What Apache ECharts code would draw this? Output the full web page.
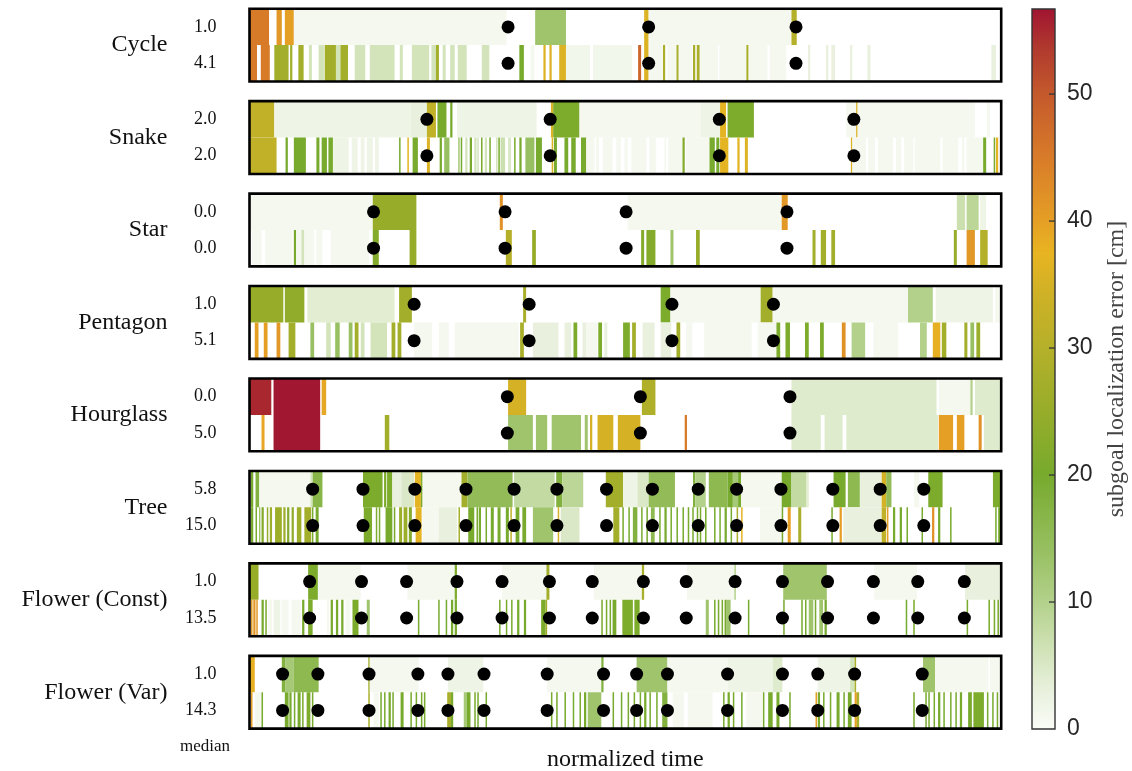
<!DOCTYPE html>
<html>
<head>
<meta charset="utf-8">
<script src="https://cdn.jsdelivr.net/npm/echarts@6/dist/echarts.min.js"></script>
<style>
html, body { margin: 0; padding: 0; background: #ffffff; }
#chart { width: 1132px; height: 771px; }
</style>
</head>
<body>
<div id="chart"></div>
<script>
// Trajectory shapes (one panel each) and the median error of each row.
const shapes = ['Cycle', 'Snake', 'Star', 'Pentagon', 'Hourglass', 'Tree', 'Flower (Const)', 'Flower (Var)'];
const medians = [['1.0', '4.1'], ['2.0', '2.0'], ['0.0', '0.0'], ['1.0', '5.1'], ['0.0', '5.0'], ['5.8', '15.0'], ['1.0', '13.5'], ['1.0', '14.3']];

// Error segments per row: [start %, end %, error cm] along normalized time.
const cycleUpper = [[0,2.6,45],[3.6,4.3,41],[4.7,5.9,40],[5.9,34.2,1],[38.0,42.1,13],[52.5,53.1,36],[53.1,72.1,1],[72.1,72.8,30]];
const cycleLower = [[0,1.0,45],[1.5,2.7,45],[3.3,5.2,27],[5.4,5.7,27],[6.5,7.2,27],[7.9,8.3,6],[9.2,9.9,6],[10.0,11.5,27],[11.5,12.1,6],[12.1,13.1,27],[14.0,15.4,6],[16.0,19.3,6],[20.0,20.4,6],[21.6,23.9,6],[24.2,24.8,6],[24.8,25.2,27],[25.7,26.1,6],[26.7,27.3,6],[27.7,28.9,6],[30.9,31.9,6],[35.9,36.5,20],[37.4,37.9,1],[39.1,39.4,36],[39.9,40.2,36],[41.2,42.1,36],[42.1,45.3,1.5],[45.7,50.9,1.5],[51.7,52.1,48],[52.5,53.1,36],[53.1,54.9,1],[55.0,55.3,28],[55.6,56.7,1],[56.8,57.1,28],[57.1,58.9,1],[59.0,59.3,28],[59.5,59.9,28],[59.9,62.3,1],[62.5,66.1,1],[66.1,66.4,28],[66.4,68.9,1],[69.2,71.4,1],[74.3,74.6,3],[76.7,77.0,3],[77.4,77.9,3],[79.9,80.2,3],[82.2,82.6,3],[98.7,99.3,3]];

const snakeUpper = [[0,3.3,32],[3.3,21.4,2],[21.4,23.6,3],[23.6,24.8,32],[25.0,26.2,20],[26.7,27.0,20],[27.6,38.2,2],[40.1,40.4,36],[40.4,43.9,21],[43.9,60.0,1],[60.0,62.6,2],[62.6,63.4,37],[63.6,67.1,21],[79.4,80.7,1],[80.7,80.9,36],[80.9,96.5,1],[98.1,98.5,1]];
const snakeLower = [[0,3.6,32],[4.8,5.1,20],[5.9,7.5,20],[8.9,9.3,20],[9.6,10.3,20],[10.5,11.1,20],[11.1,13.2,2],[13.6,14.4,2],[14.8,15.3,2],[15.6,16.4,2],[16.7,17.2,2],[19.9,20.1,20],[21.0,21.2,37],[21.7,22.4,20],[23.6,24.0,36],[25.3,25.6,20],[25.9,26.6,14],[27.8,27.9,20],[28.1,28.3,20],[28.7,29.0,6],[29.3,29.6,20],[29.9,30.2,6],[30.3,30.5,6],[30.8,31.0,20],[31.3,31.6,6],[31.9,32.1,20],[32.8,33.0,6],[33.1,33.3,20],[33.4,34.0,7],[34.4,34.8,5],[35.2,35.4,20],[35.9,36.2,20],[36.7,37.9,14],[38.1,38.9,20],[40.2,40.4,36],[40.5,40.9,20],[41.9,42.4,20],[42.8,43.4,20],[44.1,44.8,20],[44.8,45.9,1],[46.1,46.5,1],[47.0,48.3,1],[48.8,49.4,1],[49.9,50.3,1],[50.8,52.8,1],[53.2,54.1,1],[55.2,55.4,1],[55.7,57.5,1],[57.6,57.9,22],[58.1,61.2,1],[61.2,61.9,20],[62.1,62.5,20],[62.6,63.7,37],[64.9,65.2,37],[65.9,66.3,36],[80.0,80.2,36],[80.2,82.0,1],[82.3,83.2,1],[83.6,85.6,1],[86.0,86.7,1],[87.1,88.3,1],[88.5,91.9,1],[92.2,94.3,1],[94.8,95.1,1],[95.4,97.6,1],[97.6,98.0,20],[99.0,99.2,20],[99.3,99.6,37]];

const starUpper = [[0,16.4,1],[16.4,22.2,25],[33.3,33.7,42],[50.3,70.8,1],[70.8,71.6,41],[94.1,95.2,7],[95.4,97.0,9],[97.2,98.0,2]];
const starLower = [[0.3,1.6,1],[2.1,5.7,1],[5.9,6.2,20],[6.2,6.9,1],[6.9,7.3,6],[7.3,8.6,1],[8.9,9.7,1],[10.8,15.9,1],[16.4,17.2,22],[21.3,22.2,25],[34.1,34.9,30],[37.6,38.1,25],[52.1,52.5,22],[52.8,54.0,22],[56.0,56.4,13],[59.4,59.9,25],[74.9,75.3,27],[76.0,76.7,27],[77.4,77.9,27],[93.7,94.1,25],[95.4,96.5,41],[97.2,98.2,30]];

const pentagonUpper = [[0,4.5,25],[4.7,7.3,24],[7.7,19.3,4],[19.9,21.6,27],[36.4,36.8,28],[54.7,56.0,21],[56.0,68.0,1],[68.0,69.6,27],[69.6,87.6,1],[87.6,90.9,10],[91.3,98.9,2],[99.2,100,1]];
const pentagonLower = [[0.7,1.2,40],[1.9,2.4,40],[3.6,4.1,41],[5.2,6.1,27],[8.1,8.6,14],[10.2,10.8,6],[11.4,12.0,14],[13.2,13.7,14],[14.0,14.5,27],[14.8,15.3,6],[16.1,18.3,6],[18.9,19.4,27],[19.7,20.2,27],[21.9,24.3,1],[25.2,26.5,1],[27.3,35.8,1],[36.0,36.5,28],[37.7,41.1,3],[41.9,42.8,3],[43.1,43.6,21],[44.3,44.8,3],[44.8,46.3,1],[46.4,46.9,21],[47.2,47.6,3],[49.7,50.6,21],[50.9,51.4,27],[52.3,53.9,3],[54.7,56.1,3],[56.8,57.3,27],[58.1,58.9,1],[60.5,66.8,1],[67.6,70.1,1],[70.1,70.6,21],[71.3,71.9,21],[73.9,74.4,21],[75.9,76.4,21],[78.8,79.3,42],[80.1,81.9,10],[83.0,86.3,1],[89.2,90.1,10],[90.9,91.9,38],[92.1,92.7,27],[95.1,95.5,27],[95.9,96.4,14],[96.7,97.2,26]];

const hourglassUpper = [[0,2.9,55],[3.2,9.4,56.5],[9.6,10.2,39],[34.4,36.8,35],[52.2,54.0,29],[72.1,91.4,4.5],[91.7,95.9,1],[95.9,96.2,10],[96.5,100,4.5]];
const hourglassLower = [[1.6,2.0,39],[3.2,9.4,56.5],[18.0,18.6,27],[34.4,37.7,13],[38.1,39.6,13],[40.2,44.1,13],[44.6,45.0,13],[45.3,45.6,35],[46.3,48.4,35],[49.0,52.0,35],[57.9,58.2,45],[72.1,76.0,4.5],[76.5,78.9,4.5],[79.4,91.6,4.5],[91.7,93.6,40],[94.1,95.1,40],[97.0,97.4,42],[97.7,100,4.5]];

const treeUpper = [[0.2,0.5,20],[0.8,1.3,18],[1.3,8.1,1],[8.1,8.4,6],[8.4,9.7,17],[15.1,17.7,21],[17.9,18.2,21],[18.3,19.0,21],[19.0,20.2,3],[20.2,21.9,5],[22.0,22.8,37],[22.8,23.0,21],[23.1,28.1,1],[28.2,29.0,27],[29.0,35.0,15],[35.2,40.6,8],[40.8,41.6,18],[41.6,44.4,9],[47.4,49.7,27],[49.7,51.6,2],[51.6,53.1,5],[53.1,56.6,15],[59.0,59.3,18],[59.3,60.7,10],[61.1,63.6,16],[63.6,64.3,20],[64.3,65.0,12],[65.0,65.4,20],[65.4,70.8,1],[70.8,72.1,20],[72.1,74.1,8],[74.1,74.4,4],[77.7,79.3,20],[79.6,81.2,16],[81.2,84.1,3],[84.1,84.7,35],[84.7,85.4,15],[88.4,89.1,1],[90.3,92.2,21],[98.9,100,21]];
const treeLower = [[0.2,0.5,20],[0.8,1.0,20],[1.3,1.4,20],[1.6,1.9,22],[2.3,2.5,24],[2.7,3.0,26],[3.4,4.3,26],[4.5,4.8,26],[5.0,5.3,22],[5.6,5.9,24],[6.3,6.9,26],[7.3,8.2,27],[8.3,8.5,20],[8.8,9.2,20],[15.2,16.3,21],[16.8,17.0,21],[17.2,17.4,21],[18.1,19.0,20],[19.2,19.4,20],[19.9,20.3,26],[20.5,21.0,26],[21.2,21.6,22],[22.1,22.9,37],[23.0,25.2,1],[25.2,27.6,3],[27.8,28.0,27],[29.1,29.9,20],[30.2,30.4,20],[30.5,30.8,20],[31.4,31.6,20],[32.1,32.5,20],[33.0,33.4,20],[34.1,34.5,20],[34.7,34.9,32],[35.4,35.9,20],[36.3,36.8,20],[37.7,40.4,13],[41.0,41.2,35],[41.4,43.9,5],[48.4,49.2,27],[49.6,49.8,20],[50.4,50.6,20],[51.0,51.6,18],[52.1,52.3,20],[52.8,53.0,20],[53.4,53.9,16],[54.5,54.7,20],[55.2,55.5,20],[56.0,56.2,20],[56.8,57.0,20],[57.6,57.8,20],[58.3,58.5,20],[58.9,59.1,20],[59.5,59.7,20],[59.9,60.1,20],[60.6,60.8,20],[61.8,62.0,20],[62.5,62.7,20],[63.2,63.5,20],[64.0,64.2,20],[64.8,65.0,28],[65.4,65.6,37],[67.9,70.8,1],[70.8,71.0,20],[71.6,72.0,40],[73.0,73.4,28],[77.4,77.6,20],[78.5,78.8,40],[79.0,84.1,3],[84.1,84.7,32],[84.8,85.0,40],[85.6,85.9,20],[86.5,86.8,20],[87.4,87.6,20],[89.4,89.6,20],[90.8,91.1,42],[91.6,91.9,20],[93.2,93.4,20],[99.2,99.4,20],[99.6,99.9,20]];

const flowerConstUpper = [[0,1.2,25],[7.8,9.1,21],[9.1,14.8,1],[21.0,27.3,1],[27.3,27.6,21],[33.6,39.5,1],[39.5,39.9,27],[45.8,52.2,1],[52.2,52.5,28],[58.2,64.5,1],[64.5,64.7,10],[71.0,76.8,13],[83.1,88.8,1],[95.2,100,3]];
const flowerConstLower = [[0.2,0.4,41],[0.5,0.8,41],[0.9,1.1,41],[1.6,1.9,20],[2.1,2.3,20],[2.5,3.0,1],[3.2,4.1,2],[4.3,5.2,1],[5.6,6.8,1],[7.0,7.3,20],[7.8,8.4,21],[10.3,10.6,1],[10.8,11.1,20],[11.5,11.8,20],[12.2,12.5,20],[12.8,13.4,1],[13.7,14.5,21],[15.6,16.0,13],[22.4,22.6,20],[25.1,25.3,20],[26.1,26.3,20],[26.8,27.1,20],[27.3,27.6,20],[33.2,33.4,20],[34.1,34.3,20],[34.8,35.0,20],[35.6,35.9,20],[36.5,36.8,20],[38.8,39.4,21],[39.4,39.6,27],[46.8,47.0,20],[47.4,47.6,20],[47.9,48.1,20],[48.3,48.8,20],[49.6,51.0,21],[51.2,51.9,21],[60.7,61.1,13],[61.8,62.0,20],[62.3,62.5,20],[62.8,63.0,20],[63.2,63.4,20],[63.4,64.0,13],[66.3,66.5,20],[71.0,71.2,20],[73.4,73.6,20],[73.9,74.1,20],[74.4,75.0,13],[75.2,75.4,20],[75.8,76.3,13],[76.5,76.8,20],[87.3,87.5,20],[88.3,88.5,20],[95.4,95.6,20],[98.3,98.5,20],[99.0,99.2,20],[99.5,99.7,20]];

const flowerVarUpper = [[0,0.7,38],[4.3,4.8,18],[4.8,5.9,12],[5.9,9.2,16],[15.8,16.0,27],[16.0,22.5,1],[26.4,31.1,2],[39.6,46.8,1],[46.8,47.1,18],[51.5,55.6,13],[55.6,63.6,1],[63.6,69.6,2],[69.6,70.9,4.5],[75.6,79.9,2],[79.9,80.5,6],[80.5,80.7,28],[89.6,91.2,13],[91.2,98.3,1],[98.5,100,1]];
const flowerVarLower = [[0.2,0.4,40],[0.7,1.6,1],[1.6,1.8,20],[4.7,5.2,20],[5.3,5.6,20],[5.9,6.1,20],[6.4,6.8,20],[7.0,7.2,20],[7.6,8.1,21],[8.3,8.5,20],[15.8,16.0,28],[16.5,17.2,1],[17.4,17.6,20],[17.9,18.1,20],[18.5,18.8,20],[19.0,19.2,20],[20.1,20.5,20],[21.4,21.6,20],[22.1,22.3,20],[22.8,23.0,20],[23.2,23.4,20],[26.3,26.8,28],[26.8,27.1,20],[28.5,28.9,12],[28.9,29.4,20],[29.9,30.1,20],[30.3,30.5,20],[31.4,31.6,20],[40.1,40.3,20],[40.8,41.0,20],[41.9,42.1,20],[43.0,43.2,20],[43.9,44.1,20],[44.5,44.8,20],[45.0,46.8,13],[48.3,48.5,20],[49.4,49.6,20],[50.3,50.5,20],[51.1,51.3,20],[51.9,52.1,20],[52.5,52.8,20],[53.2,53.4,20],[54.1,54.3,20],[54.9,55.6,18],[56.3,57.8,1],[58.3,61.6,1],[63.0,63.2,20],[63.6,63.9,20],[64.3,64.5,20],[65.4,65.6,20],[66.1,68.2,1],[68.3,68.5,20],[69.0,69.6,20],[70.1,70.5,20],[71.8,72.0,20],[75.3,75.5,40],[75.6,75.9,20],[76.3,76.5,20],[77.2,77.4,20],[78.1,78.5,20],[79.0,79.2,20],[79.6,80.1,20],[80.5,80.8,40],[80.8,81.1,28],[88.3,88.5,20],[89.9,90.1,20],[90.3,90.5,20],[91.0,91.2,20],[91.6,91.9,20],[92.3,92.5,20],[93.2,93.4,20],[93.9,94.1,20],[94.5,94.8,20],[95.6,96.1,20],[96.3,97.7,21],[98.1,98.3,20],[98.8,99.0,20],[99.4,99.6,20]];

// Subgoal times (%) marked with dots on both rows.
const cycleGoals = [34.4, 53.1, 72.7];
const snakeGoals = [23.6, 40.0, 62.5, 80.4];
const starGoals = [16.5, 34.0, 50.1, 71.5];
const pentagonGoals = [21.9, 37.2, 56.2, 69.7];
const hourglassGoals = [34.3, 52.0, 71.9];
const treeGoals = [8.4, 15.1, 22.0, 28.8, 35.2, 40.9, 47.5, 53.6, 59.7, 64.8, 70.7, 77.6, 83.9, 89.7];
const flowerConstGoals = [8.0, 14.9, 20.9, 27.6, 33.6, 39.9, 45.6, 52.4, 58.1, 64.6, 70.9, 76.9, 83.0, 88.9, 95.1];
const flowerVarGoals = [4.4, 9.1, 15.9, 22.4, 26.4, 31.2, 39.6, 47.1, 51.5, 55.6, 63.6, 70.9, 75.6, 80.5, 89.5];

// Colour scale for the localization error and its colorbar range.
const errorStops = [[0,'#fafcf7'],[3,'#e9f1de'],[6,'#d3e4bb'],[10,'#b3d18b'],[14,'#98c062'],[20,'#77aa2d'],[25,'#97ad2a'],[30,'#b5b02a'],[34,'#cdb126'],[37.5,'#e8b422'],[40,'#e59f25'],[45,'#d87b29'],[50,'#c4592c'],[53.5,'#b13a2e'],[56.7,'#a01431']];
const errorMax = 56.7;
const colorbarTicks = [0, 10, 20, 30, 40, 50];

const panelRows = [
  [cycleUpper, cycleLower], [snakeUpper, snakeLower], [starUpper, starLower], [pentagonUpper, pentagonLower],
  [hourglassUpper, hourglassLower], [treeUpper, treeLower], [flowerConstUpper, flowerConstLower], [flowerVarUpper, flowerVarLower]
];
const panelGoals = [cycleGoals, snakeGoals, starGoals, pentagonGoals, hourglassGoals, treeGoals, flowerConstGoals, flowerVarGoals];

function hexToRgb(h) {
  return [parseInt(h.slice(1, 3), 16), parseInt(h.slice(3, 5), 16), parseInt(h.slice(5, 7), 16)];
}
function errColor(v) {
  const s = errorStops;
  if (v <= s[0][0]) return s[0][1];
  for (let k = 1; k < s.length; k++) {
    if (v <= s[k][0]) {
      const f = (v - s[k - 1][0]) / (s[k][0] - s[k - 1][0]);
      const a = hexToRgb(s[k - 1][1]), b = hexToRgb(s[k][1]);
      return 'rgb(' + a.map((c, j) => Math.round(c + (b[j] - c) * f)).join(',') + ')';
    }
  }
  return s[s.length - 1][1];
}

function renderSegment(params, api) {
  const row = api.value(2);
  const p0 = api.coord([api.value(0), row]);
  const p1 = api.coord([api.value(1), row]);
  const band = api.size([0, 1])[1];
  return {
    type: 'rect',
    shape: { x: p0[0], y: p0[1] - band / 2, width: Math.max(p1[0] - p0[0], 1), height: band },
    style: { fill: errColor(api.value(3)) }
  };
}
function renderFrame(params) {
  const cs = params.coordSys;
  return {
    type: 'rect',
    shape: { x: cs.x, y: cs.y, width: cs.width, height: cs.height },
    style: { fill: 'none', stroke: '#000', lineWidth: 2.6 }
  };
}
function renderColorbar(params) {
  const cs = params.coordSys;
  const grad = new echarts.graphic.LinearGradient(0, 1, 0, 0,
    errorStops.map(s => ({ offset: s[0] / errorMax, color: s[1] })));
  return {
    type: 'rect',
    shape: { x: cs.x, y: cs.y, width: cs.width, height: cs.height },
    style: { fill: grad, stroke: '#333', lineWidth: 1.4 }
  };
}
// Short inward tick on the colorbar's right edge.
function renderColorbarTick(params, api) {
  const p = api.coord([1, api.value(1)]);
  return {
    type: 'line',
    shape: { x1: p[0] - 6, y1: p[1], x2: p[0], y2: p[1] },
    style: { stroke: '#333', lineWidth: 1.3 }
  };
}

const SERIF = '"Liberation Serif", "DejaVu Serif", serif';
const PANEL_LEFT = 249.5, PANEL_WIDTH = 751.7, PANEL_TOP = 8.7, PANEL_STEP = 92.45, PANEL_HEIGHT = 72.8;

const grids = [], xAxes = [], yAxes = [], series = [];
shapes.forEach((name, i) => {
  grids.push({ left: PANEL_LEFT, top: PANEL_TOP + PANEL_STEP * i, width: PANEL_WIDTH, height: PANEL_HEIGHT, containLabel: false, outerBoundsMode: 'none' });
  const last = i === shapes.length - 1;
  xAxes.push({
    type: 'value', gridIndex: i, min: 0, max: 100, show: last,
    axisLine: { show: false }, axisTick: { show: false }, axisLabel: { show: false }, splitLine: { show: false },
    name: last ? 'normalized time' : '', nameLocation: 'middle', nameGap: 19,
    nameTextStyle: { fontFamily: SERIF, fontSize: 24, color: '#111' }
  });
  yAxes.push({
    type: 'category', gridIndex: i, data: medians[i], inverse: true, position: 'left', offset: 0,
    axisLine: { show: false }, axisTick: { show: false }, splitLine: { show: false },
    axisLabel: { interval: 0, margin: 33, fontFamily: SERIF, fontSize: 18, color: '#111' }
  });
  yAxes.push({
    type: 'category', gridIndex: i, data: [name], position: 'left', offset: 0,
    axisLine: { show: false }, axisTick: { show: false }, splitLine: { show: false },
    axisLabel: { interval: 0, margin: 82, fontFamily: SERIF, fontSize: 24, color: '#111' }
  });
  const segs = [];
  panelRows[i].forEach((rowSegs, r) => rowSegs.forEach(s => segs.push([s[0], s[1], r, s[2]])));
  series.push({
    type: 'custom', name: name, xAxisIndex: i, yAxisIndex: 2 * i, clip: true, silent: true, z: 2,
    encode: { x: [0, 1], y: 2 }, renderItem: renderSegment, data: segs
  });
  series.push({
    type: 'scatter', xAxisIndex: i, yAxisIndex: 2 * i, symbolSize: 13, silent: true, z: 4,
    itemStyle: { color: '#000', opacity: 1 },
    data: panelGoals[i].flatMap(t => [[t, 0], [t, 1]])
  });
  series.push({
    type: 'custom', xAxisIndex: i, yAxisIndex: 2 * i, silent: true, z: 6,
    encode: { x: 0, y: 1 }, renderItem: renderFrame, data: [[50, 0]]
  });
});

// Colorbar
const cbIndex = shapes.length;
grids.push({ left: 1032, top: 9, width: 23, height: 720, containLabel: false, outerBoundsMode: 'none' });
xAxes.push({ type: 'value', gridIndex: cbIndex, min: 0, max: 1, show: false });
yAxes.push({
  type: 'value', gridIndex: cbIndex, min: 0, max: errorMax, interval: 10, position: 'right',
  axisLine: { show: false }, splitLine: { show: false }, axisTick: { show: false },
  axisLabel: {
    margin: 12, fontFamily: '"Liberation Sans", Arial, sans-serif', fontSize: 23, color: '#262626',
    formatter: v => (colorbarTicks.indexOf(v) >= 0 ? String(v) : '')
  },
  name: 'subgoal localization error [cm]', nameLocation: 'middle', nameRotate: 90, nameGap: 50,
  nameTextStyle: { fontFamily: SERIF, fontSize: 24, color: '#444' }
});
const cbAxis = yAxes.length - 1;
series.push({
  type: 'custom', xAxisIndex: cbIndex, yAxisIndex: cbAxis, silent: true, z: 1,
  encode: { x: 0, y: 1 }, renderItem: renderColorbar, data: [[0.5, errorMax / 2]]
});
series.push({
  type: 'custom', xAxisIndex: cbIndex, yAxisIndex: cbAxis, silent: true, z: 3, clip: false,
  encode: { x: 0, y: 1 }, renderItem: renderColorbarTick,
  data: colorbarTicks.filter(v => v > 0).map(v => [1, v])
});

const chart = echarts.init(document.getElementById('chart'));
chart.setOption({
  animation: false,
  backgroundColor: '#ffffff',
  grid: grids,
  xAxis: xAxes,
  yAxis: yAxes,
  series: series,
  graphic: [{
    type: 'text', x: 205, y: 747, silent: true,
    style: { text: 'median', fill: '#111', fontFamily: SERIF, fontSize: 17, align: 'center', verticalAlign: 'middle' }
  }]
});
</script>
</body>
</html>
